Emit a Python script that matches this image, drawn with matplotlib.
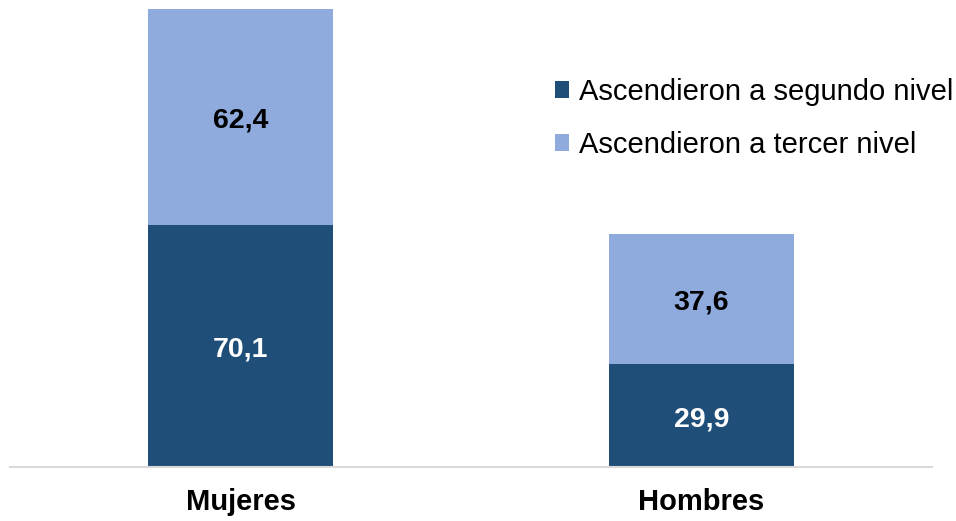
import matplotlib
matplotlib.use("Agg")
import matplotlib.pyplot as plt
import numpy as np

plt.rcParams["font.family"] = ["Liberation Sans", "DejaVu Sans"]

categories = ["Mujeres", "Hombres"]
segundo_nivel = [70.1, 29.9]
tercer_nivel = [62.4, 37.6]
series_labels = ["Ascendieron a segundo nivel", "Ascendieron a tercer nivel"]

dark = "#1F4E79"
light = "#8FAADC"

fig = plt.figure(figsize=(9.56, 5.21), dpi=100)
ax = fig.add_axes([10 / 956, 54 / 521, 922 / 956, 467 / 521])

x = np.arange(len(categories))
width = 0.4

b1 = ax.bar(x, segundo_nivel, width, color=dark, label=series_labels[0])
b2 = ax.bar(x, tercer_nivel, width, bottom=segundo_nivel, color=light, label=series_labels[1])

for i in range(len(categories)):
    ax.annotate(f"{segundo_nivel[i]:.1f}".replace(".", ","), (x[i], segundo_nivel[i] / 2),
                xytext=(0, -3), textcoords="offset points",
                ha="center", va="center", color="white", fontsize=20.5, fontweight="bold")
    ax.annotate(f"{tercer_nivel[i]:.1f}".replace(".", ","),
                (x[i], segundo_nivel[i] + tercer_nivel[i] / 2),
                xytext=(0, -3), textcoords="offset points",
                ha="center", va="center", color="black", fontsize=20.5, fontweight="bold")

ax.set_xlim(-0.5, 1.5)
ax.set_ylim(0, 135)
ax.set_xticks(x)
ax.set_xticklabels(categories, fontsize=21, fontweight="bold")
ax.tick_params(axis="x", length=0, pad=15)
ax.set_yticks([])
for s in ["top", "right", "left"]:
    ax.spines[s].set_visible(False)
ax.spines["bottom"].set_color("#d9d9d9")
ax.spines["bottom"].set_linewidth(1.5)

fig.legend(handles=[b1, b2], labels=series_labels, loc="upper left",
           bbox_to_anchor=(543 / 956, 1 - 66 / 521), frameon=False, fontsize=21,
           handlelength=0.5, handleheight=0.5, handletextpad=0.35,
           labelspacing=0.87, borderaxespad=0)

fig.savefig("out.png", dpi=100)
